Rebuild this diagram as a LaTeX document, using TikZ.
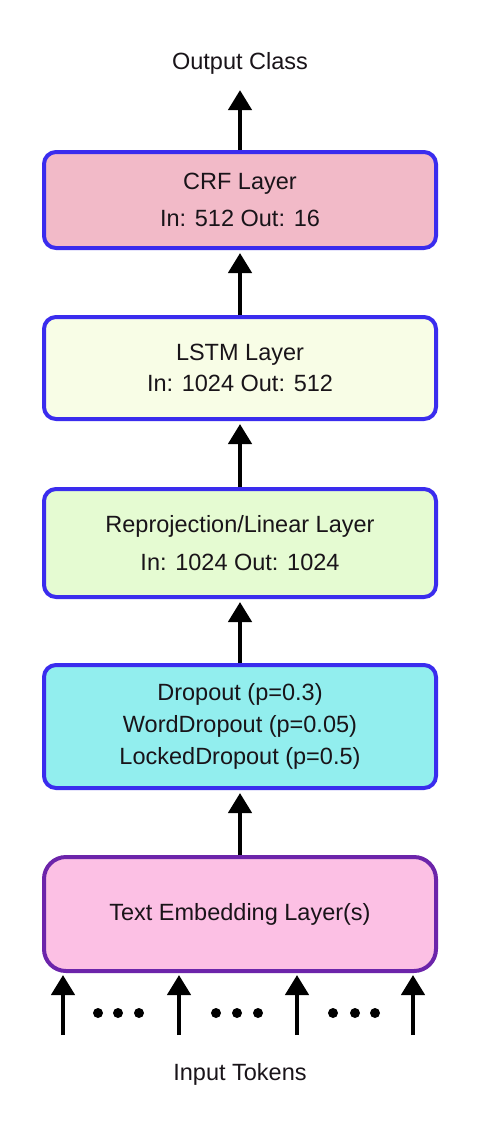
\documentclass[tikz,border=0pt]{standalone}
\usepackage{fontspec}
\setmainfont{Liberation Sans}
\usetikzlibrary{arrows.meta}
\definecolor{boxblue}{RGB}{58,44,238}
\definecolor{boxpurple}{RGB}{108,36,170}
\definecolor{crffill}{RGB}{242,186,200}
\definecolor{lstmfill}{RGB}{248,253,230}
\definecolor{reprofill}{RGB}{229,251,210}
\definecolor{dropfill}{RGB}{146,238,238}
\definecolor{embfill}{RGB}{252,192,228}
\definecolor{txt}{RGB}{25,20,25}
\tikzset{
  layerbox/.style={draw=boxblue, line width=4pt, rounded corners=12pt,
    minimum width=392pt, align=center, text=txt, inner sep=0pt},
  arr/.style={line width=4.5pt, -{Triangle[width=23pt,length=20pt]}},
  lbl/.style={text=txt, inner sep=0pt, anchor=base},
  dot/.style={fill=black}
}
\begin{document}
\begin{tikzpicture}[x=1pt,y=-1pt]
\useasboundingbox (0,0) rectangle (481,1133);
\fill[white] (0,0) rectangle (481,1133);

\node[layerbox, fill=crffill, minimum height=96pt,
  font=\fontsize{23.5}{37}\selectfont] (crf) at (240,200)
  {CRF Layer\\In: 512 Out: 16};
\node[layerbox, fill=lstmfill, minimum height=102pt,
  font=\fontsize{23.5}{31}\selectfont] (lstm) at (240,368)
  {LSTM Layer\\In: 1024 Out: 512};
\node[layerbox, fill=reprofill, minimum height=108pt,
  font=\fontsize{23.5}{38}\selectfont] (repro) at (240,543)
  {Reprojection/Linear Layer\\In: 1024 Out: 1024};
\node[layerbox, fill=dropfill, minimum height=123pt,
  font=\fontsize{23.5}{32}\selectfont] (drop) at (240,726.5)
  {Dropout (p=0.3)\\WordDropout (p=0.05)\\LockedDropout (p=0.5)};
\node[layerbox, draw=boxpurple, fill=embfill, rounded corners=22pt,
  minimum height=114pt, font=\fontsize{23.5}{28}\selectfont] (emb) at (240,914)
  {Text Embedding Layer(s)};

\node[lbl, font=\fontsize{23.5}{28}\selectfont] (out) at (240,69) {Output Class};
\node[lbl, font=\fontsize{23.5}{28}\selectfont] (in) at (240,1080) {Input Tokens};

\draw[arr, shorten >=1pt] (crf.north) -- ([yshift=-15pt]out.south);
\draw[arr, shorten >=3pt] (lstm.north) -- (crf.south);
\draw[arr, shorten >=3pt] (repro.north) -- (lstm.south);
\draw[arr, shorten >=3pt] (drop.north) -- (repro.south);
\draw[arr, shorten >=3pt] (emb.north) -- (drop.south);

\foreach \i/\x in {1/63,2/179,3/297,4/413} {
  \coordinate (t\i) at (\x,1035);
  \draw[arr, shorten >=2pt] (t\i) -- (t\i |- emb.south);
}
\foreach \x in {98,118,139,216,237,258,333,355,375}
  \fill[dot] (\x,1013) circle (5pt);
\end{tikzpicture}
\end{document}
